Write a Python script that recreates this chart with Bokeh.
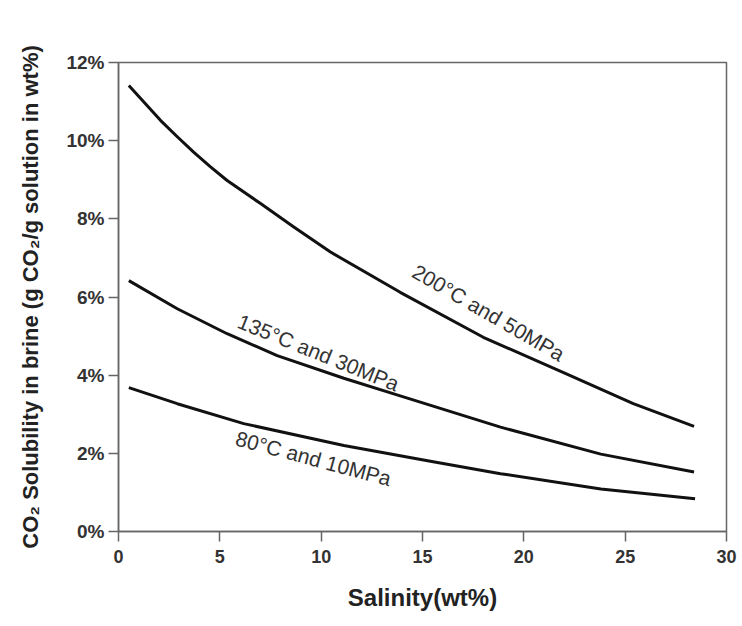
from bokeh.plotting import figure
from bokeh.models import PrintfTickFormatter, FixedTicker, Range1d, ColumnDataSource
from bokeh.core.properties import value
from bokeh.embed import file_html
from bokeh.resources import INLINE
import math

# Salinity (wt%) and CO2 solubility (wt%)
x_200 = [0.51, 2.07, 2.9, 3.72, 4.54, 5.36, 7.01, 8.65, 10.46, 13.9, 18.0, 22.1, 25.4, 28.4]
y_200 = [11.41, 10.52, 10.1, 9.70, 9.33, 8.98, 8.39, 7.79, 7.15, 6.12, 4.97, 4.03, 3.27, 2.69]

x_135 = [0.51, 2.9, 5.36, 7.83, 11.12, 13.9, 18.85, 23.8, 28.4]
y_135 = [6.42, 5.70, 5.06, 4.50, 3.92, 3.47, 2.67, 1.98, 1.52]

x_80 = [0.51, 2.9, 6.18, 11.12, 15.39, 18.85, 23.8, 28.45]
y_80 = [3.68, 3.27, 2.76, 2.20, 1.80, 1.48, 1.09, 0.84]

labels = ["200°C and 50MPa", "135°C and 30MPa", "80°C and 10MPa"]
label_x = [18.26, 9.87, 9.62]
label_y = [5.60, 4.58, 1.87]
label_angle_deg = [-30, -22, -15]

x_ticks = [0, 5, 10, 15, 20, 25, 30]
y_ticks = [0, 2, 4, 6, 8, 10, 12]

p = figure(width=740, height=624, output_backend="svg", toolbar_location=None,
           x_range=Range1d(0, 30), y_range=Range1d(0, 12),
           min_border_left=118, min_border_right=14, min_border_top=62, min_border_bottom=93)

p.grid.visible = False
p.outline_line_color = "#666666"
p.outline_line_width = 1.5

for xs, ys in [(x_200, y_200), (x_135, y_135), (x_80, y_80)]:
    p.line(xs, ys, line_color="#111111", line_width=3, line_join="round")

src = ColumnDataSource(dict(x=label_x, y=label_y, t=labels,
                            a=[math.radians(d) for d in label_angle_deg]))
p.text(x="x", y="y", text="t", angle="a", source=src, text_align="center",
       text_baseline="middle", text_font=value("Liberation Sans"),
       text_font_size="21px", text_color="#333333")

p.xaxis.ticker = FixedTicker(ticks=x_ticks)
p.yaxis.ticker = FixedTicker(ticks=y_ticks)
p.yaxis.formatter = PrintfTickFormatter(format="%d%%")

for ax in (p.xaxis, p.yaxis):
    ax.axis_line_color = "#666666"
    ax.axis_line_width = 1.5
    ax.major_tick_line_color = "#666666"
    ax.major_tick_line_width = 1.5
    ax.major_tick_out = 10
    ax.major_tick_in = 0
    ax.minor_tick_line_color = None
    ax.major_label_text_font = "Liberation Sans"
    ax.major_label_text_font_style = "bold"
    ax.major_label_text_font_size = "18px"
    ax.major_label_text_color = "#333333"
    ax.axis_label_text_font = "Liberation Sans"
    ax.axis_label_text_font_style = "bold"
    ax.axis_label_text_color = "#222222"

p.yaxis.major_label_text_font_size = "19px"
p.xaxis.axis_label_text_font_size = "24px"
p.yaxis.axis_label_text_font_size = "22px"
p.xaxis.axis_label = "Salinity(wt%)"
p.yaxis.axis_label = "CO₂ Solubility in brine (g CO₂/g solution in wt%)"
p.xaxis.major_label_standoff = 8
p.yaxis.major_label_standoff = 4
p.xaxis.axis_label_standoff = 18
p.yaxis.axis_label_standoff = 20

open("out.html", "w").write(file_html(p, INLINE))
